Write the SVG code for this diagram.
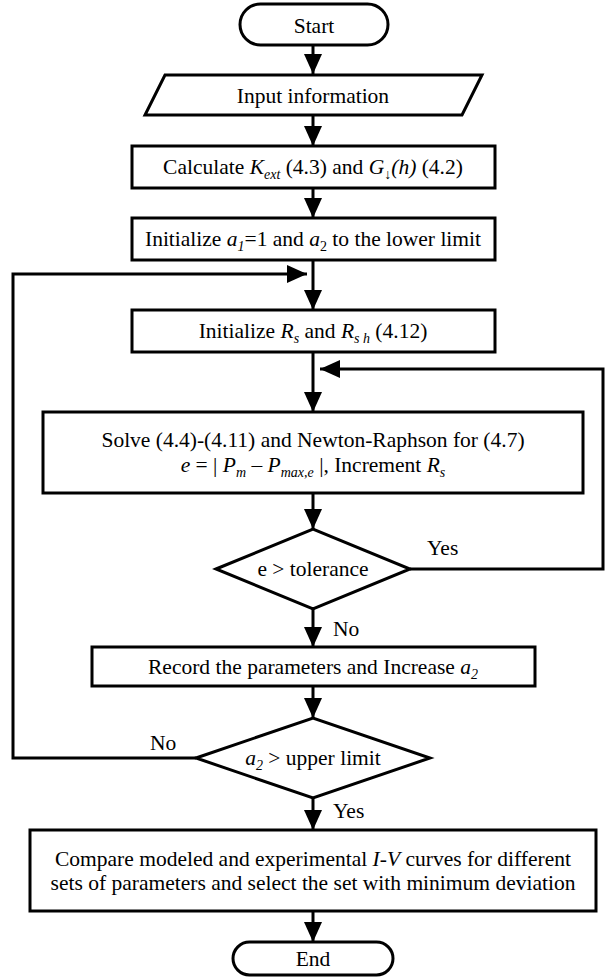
<svg xmlns="http://www.w3.org/2000/svg" width="605" height="977" viewBox="0 0 605 977">
<style>
.b{fill:#fff;stroke:#000;stroke-width:3}
.c{fill:none;stroke:#000;stroke-width:3}
text{font-family:"Times New Roman","Liberation Serif",Tinos,"DejaVu Serif",serif;font-size:21.5px;fill:#000}
.m{text-anchor:middle}
.i{font-style:italic}
.s{font-size:14px}
</style>
<defs>
<marker id="ah" markerUnits="userSpaceOnUse" markerWidth="20" markerHeight="18" refX="20" refY="9" orient="auto">
<path d="M0,0 L20,9 L0,18 z" fill="#000"/>
</marker>
</defs>
<g id="connectors">
<path class="c" d="M313,45 V74" marker-end="url(#ah)"/>
<path class="c" d="M313,115 V146" marker-end="url(#ah)"/>
<path class="c" d="M313,188 V218" marker-end="url(#ah)"/>
<path class="c" d="M313,260 V310" marker-end="url(#ah)"/>
<path class="c" d="M196,758 H13 V274 H307" marker-end="url(#ah)"/>
<path class="c" d="M313,352 V412" marker-end="url(#ah)"/>
<path class="c" d="M410,569 H603 V369 H320" marker-end="url(#ah)"/>
<path class="c" d="M313,493 V529" marker-end="url(#ah)"/>
<path class="c" d="M313,609 V647" marker-end="url(#ah)"/>
<path class="c" d="M313,686 V718" marker-end="url(#ah)"/>
<path class="c" d="M313,798 V830" marker-end="url(#ah)"/>
<path class="c" d="M313,911 V942" marker-end="url(#ah)"/>
<text x="427" y="555" font-family="Liberation Serif, serif">Yes</text>
<text x="333" y="636" font-family="Liberation Serif, serif">No</text>
<text x="150" y="750" font-family="Liberation Serif, serif">No</text>
<text x="333" y="818" font-family="Liberation Serif, serif">Yes</text>
</g>
<g id="start">
<rect class="b" x="240" y="4" width="148" height="41" rx="20.5"/>
<text class="m" x="314" y="33">Start</text>
</g>
<g id="input">
<polygon class="b" points="165,75 482,75 462,115 145,115"/>
<text class="m" x="313" y="103">Input information</text>
</g>
<g id="calc">
<rect class="b" x="132" y="146" width="363" height="42"/>
<text class="m" x="313" y="174">Calculate <tspan class="i">K</tspan><tspan class="i s" dy="5">ext</tspan><tspan dy="-5"> (4.3) and </tspan><tspan class="i">G</tspan><tspan class="s" dy="5">↓</tspan><tspan class="i" dy="-5">(h)</tspan> (4.2)</text>
</g>
<g id="init-a">
<rect class="b" x="132" y="218" width="363" height="42"/>
<text class="m" x="313" y="246">Initialize <tspan class="i">a</tspan><tspan class="i s" dy="5">1</tspan><tspan dy="-5">=1 and </tspan><tspan class="i">a</tspan><tspan class="s" dy="5">2</tspan><tspan dy="-5"> to the lower limit</tspan></text>
</g>
<g id="init-r">
<rect class="b" x="132" y="310" width="363" height="42"/>
<text class="m" x="313" y="338">Initialize <tspan class="i">R</tspan><tspan class="i s" dy="5">s</tspan><tspan dy="-5"> and </tspan><tspan class="i">R</tspan><tspan class="i s" dy="5">s h</tspan><tspan dy="-5"> (4.12)</tspan></text>
</g>
<g id="solve">
<rect class="b" x="43" y="412" width="540" height="81"/>
<text class="m" x="313" y="447">Solve (4.4)-(4.11) and Newton-Raphson for (4.7)</text>
<text class="m" x="313" y="472"><tspan class="i">e</tspan> = | <tspan class="i">P</tspan><tspan class="i s" dy="5">m</tspan><tspan dy="-5"> – </tspan><tspan class="i">P</tspan><tspan class="i s" dy="5">max,e</tspan><tspan dy="-5"> |, Increment </tspan><tspan class="i">R</tspan><tspan class="i s" dy="5">s</tspan></text>
</g>
<g id="check-e">
<polygon class="b" points="216,569 313,529 410,569 313,609"/>
<text class="m" x="313" y="576">e &gt; tolerance</text>
</g>
<g id="record">
<rect class="b" x="92" y="647" width="443" height="39"/>
<text class="m" x="313" y="674">Record the parameters and Increase <tspan class="i">a</tspan><tspan class="i s" dy="5">2</tspan></text>
</g>
<g id="check-a">
<polygon class="b" points="196,758 313,718 430,758 313,798"/>
<text class="m" x="313" y="765"><tspan class="i">a</tspan><tspan class="i s" dy="5">2</tspan><tspan dy="-5">  &gt; upper limit</tspan></text>
</g>
<g id="compare">
<rect class="b" x="30" y="830" width="566" height="81"/>
<text class="m" x="313" y="866">Compare modeled and experimental <tspan class="i">I-V</tspan> curves for different</text>
<text class="m" x="313" y="890">sets of parameters and select the set with minimum deviation</text>
</g>
<g id="end">
<rect class="b" x="233" y="942" width="160" height="33" rx="16.5"/>
<text class="m" x="313" y="966">End</text>
</g>
</svg>
